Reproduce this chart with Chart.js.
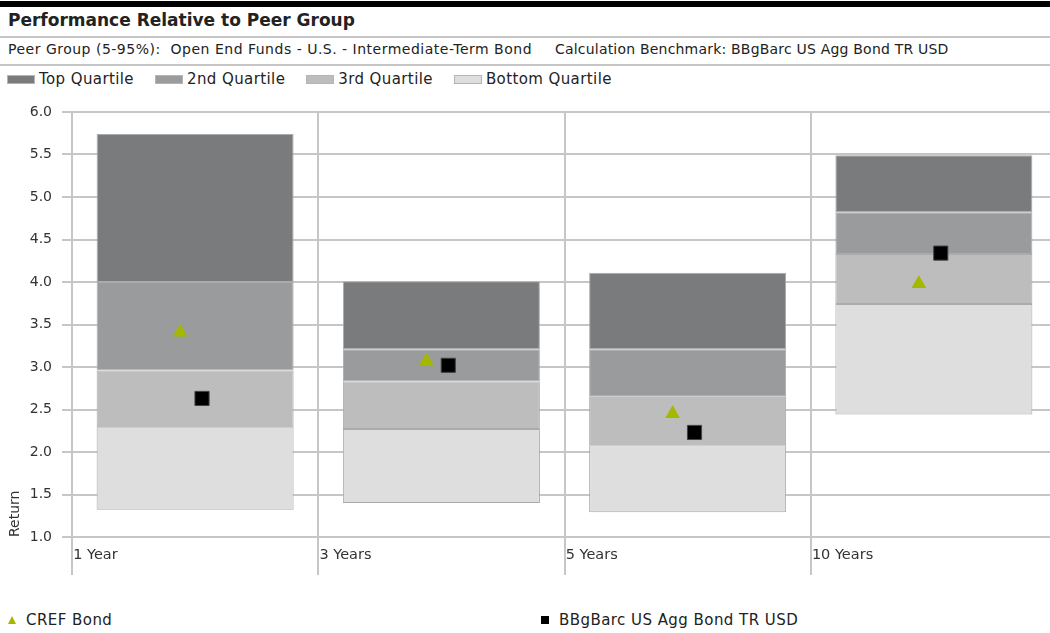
<!DOCTYPE html>
<html>
<head>
<meta charset="utf-8">
<script src="https://cdn.jsdelivr.net/npm/chart.js@4.4.1/dist/chart.umd.min.js"></script>
<style>
  html, body { margin: 0; padding: 0; background: #fff; width: 1050px; height: 633px; overflow: hidden; }
  body { position: relative; font-family: "DejaVu Sans", Verdana, sans-serif; color: #222; }
  #topbar { position: absolute; left: 0; top: 1px; width: 1050px; height: 6px; background: #000; }
  #title { position: absolute; left: 8px; top: 9px; font-weight: bold; font-size: 17px; line-height: 22px; }
  .rule { position: absolute; left: 0; width: 1050px; height: 2px; background: #c6c6c6; }
  .sub { position: absolute; top: 41px; font-size: 14px; line-height: 17px; white-space: pre; }
  #legend { position: absolute; left: 7px; top: 70px; display: flex; gap: 21px; font-size: 15px; line-height: 18px; letter-spacing: 0.4px; }
  #legend .item { display: flex; align-items: center; }
  #legend .sw { width: 28px; height: 9px; margin-right: 4px; box-sizing: border-box; border: 1px solid #b4b4b4; }
  #wrap { position: absolute; left: 0; top: 92px; width: 1068px; height: 500px; }
  #c { width: 1068px; height: 500px; }
  .mk { position: absolute; font-size: 15px; line-height: 18px; letter-spacing: 0.45px; top: 611px; display: flex; align-items: center; }
  .tri { width: 0; height: 0; border-left: 4.5px solid transparent; border-right: 4.5px solid transparent; border-bottom: 8px solid #a4b800; margin-right: 10px; }
  .sq { width: 8px; height: 8px; background: #000; margin-right: 10px; }
</style>
</head>
<body>
<div id="topbar"></div>
<div id="title">Performance Relative to Peer Group</div>
<div class="rule" style="top:36px"></div>
<div class="sub" style="left:8px; letter-spacing:0.5px">Peer Group (5-95%):  Open End Funds - U.S. - Intermediate-Term Bond</div>
<div class="sub" style="left:555px; letter-spacing:0.2px">Calculation Benchmark: BBgBarc US Agg Bond TR USD</div>
<div class="rule" style="top:64px"></div>
<div id="legend"></div>
<div id="wrap"><canvas id="c" width="1068" height="500"></canvas></div>
<div class="mk" style="left:8px"><div class="tri"></div><span id="fundName"></span></div>
<div class="mk" style="left:541px"><div class="sq"></div><span id="benchName"></span></div>

<script>
const CATEGORIES = ["1 Year", "3 Years", "5 Years", "10 Years"];
const QUARTILE_NAMES = ["Top Quartile", "2nd Quartile", "3rd Quartile", "Bottom Quartile"];

// peer group percentile breakpoints (return, %)
const PCT95 = [5.74, 4.01, 4.11, 5.49];
const PCT75 = [4.00, 3.21, 3.21, 4.82];
const PCT50 = [2.96, 2.83, 2.65, 4.33];
const PCT25 = [2.29, 2.27, 2.08, 3.74];
const PCT05 = [1.32, 1.40, 1.29, 2.44];

const FUND_NAME = "CREF Bond";
const FUND_RETURNS = [3.41, 3.07, 2.45, 3.98];
const BENCH_NAME = "BBgBarc US Agg Bond TR USD";
const BENCH_RETURNS = [2.63, 3.02, 2.23, 4.34];

const Y_MIN = 1.0, Y_MAX = 6.0, Y_STEP = 0.5;

const QUARTILE_COLORS = ["#7a7b7d", "#9a9b9d", "#bdbdbd", "#dedede"];
const GRID = "#c6c6c6";
const TEXT = "#333333";
const FONT = "'DejaVu Sans', Verdana, sans-serif";

// html legends
const legendEl = document.getElementById("legend");
QUARTILE_NAMES.forEach((name, k) => {
  const item = document.createElement("div");
  item.className = "item";
  item.innerHTML = `<div class="sw" style="background:${QUARTILE_COLORS[k]}"></div><span>${name}</span>`;
  legendEl.appendChild(item);
});
document.getElementById("fundName").textContent = FUND_NAME;
document.getElementById("benchName").textContent = BENCH_NAME;

const bands = [[PCT75, PCT95], [PCT50, PCT75], [PCT25, PCT50], [PCT05, PCT25]];
const barSets = bands.map(([lo, hi], k) => ({
  type: "bar",
  label: QUARTILE_NAMES[k],
  data: lo.map((v, i) => [v, hi[i]]),
  backgroundColor: QUARTILE_COLORS[k],
  borderColor: "#ababab",
  borderWidth: 1,
  borderSkipped: false,
  grouped: false,
  categoryPercentage: 1,
  barPercentage: 0.8,
  xAxisID: "x",
  order: 1,
}));

// markers sit a little left / right of the category centre
const FUND_SHIFT = -0.061, BENCH_SHIFT = 0.028;

const pointSets = [
  {
    type: "scatter",
    label: FUND_NAME,
    data: FUND_RETURNS.map((v, i) => ({ x: i + FUND_SHIFT, y: v })),
    xAxisID: "xm",
    pointStyle: "triangle",
    pointRadius: 8.5,
    backgroundColor: "#a4b800",
    borderWidth: 0,
    order: 0,
  },
  {
    type: "scatter",
    label: BENCH_NAME,
    data: BENCH_RETURNS.map((v, i) => ({ x: i + BENCH_SHIFT, y: v })),
    xAxisID: "xm",
    pointStyle: "rect",
    pointRadius: 10,
    backgroundColor: "#000000",
    borderColor: "#444444",
    borderWidth: 1,
    order: 0,
  },
];

new Chart(document.getElementById("c"), {
  data: { labels: CATEGORIES, datasets: [...pointSets, ...barSets] },
  options: {
    responsive: false,
    animation: false,
    devicePixelRatio: 1,
    layout: { padding: { top: 20, right: 2, left: 0, bottom: 0 } },
    plugins: { legend: { display: false }, tooltip: { enabled: false } },
    scales: {
      x: {
        type: "category",
        offset: true,
        grid: { offset: true, color: GRID, lineWidth: 2, tickLength: 38 },
        border: { display: false },
        ticks: {
          align: "start",
          labelOffset: -122,
          padding: -28,
          maxRotation: 0,
          autoSkip: false,
          color: TEXT,
          font: { family: FONT, size: 14.5 },
        },
        afterFit: (s) => { s.height = 55; },
      },
      xm: { type: "linear", display: false, min: -0.5, max: CATEGORIES.length - 0.5 },
      y: {
        min: Y_MIN,
        max: Y_MAX,
        grid: { color: GRID, lineWidth: 2, tickLength: 10 },
        border: { display: false },
        ticks: {
          stepSize: Y_STEP,
          padding: 10,
          color: TEXT,
          font: { family: FONT, size: 14 },
          callback: (v) => v.toFixed(1),
        },
        title: {
          display: true,
          text: "Return",
          align: "start",
          color: TEXT,
          padding: { top: 7, bottom: 0 },
          font: { family: FONT, size: 14 },
        },
        afterFit: (s) => { s.width = 72; },
      },
    },
  },
});
</script>
</body>
</html>
